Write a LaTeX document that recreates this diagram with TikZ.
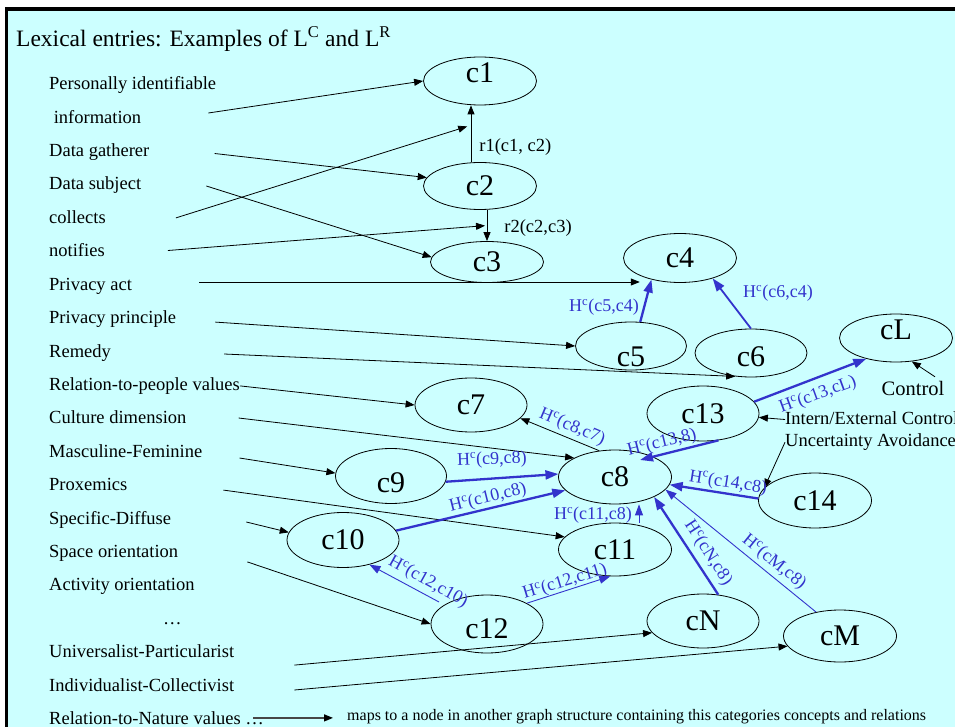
\documentclass[tikz,border=0pt]{standalone}
\usepackage{fontspec}
\setmainfont{Liberation Serif}
\usetikzlibrary{shapes.geometric,arrows.meta,positioning}
\definecolor{bgcyan}{RGB}{204,255,255}
\definecolor{hblue}{RGB}{51,51,204}
\definecolor{legendgray}{RGB}{70,70,70}
\newcommand{\Hsup}[1]{H\textsuperscript{c}(#1)}

\begin{document}
\begin{tikzpicture}[x=1pt, y=-1pt,
  conc/.style={draw, ellipse, line width=0.8pt, minimum width=113pt, minimum height=54pt, inner sep=0pt, font=\fontsize{30}{30}\selectfont},
  ctext/.style={inner sep=0pt, font=\fontsize{30}{30}\selectfont},
  lab/.style={anchor=base west, inner sep=0pt, text height=13pt, text depth=4pt, font=\fontsize{18.5}{20}\selectfont},
  rlab/.style={inner sep=0pt, font=\fontsize{18.5}{20}\selectfont},
  hlab/.style={inner sep=0pt, text=hblue, font=\fontsize{18}{20}\selectfont},
  arr/.style={-{Triangle[length=9pt,width=7pt]}, line width=0.8pt},
  harr/.style={-{Triangle[length=13pt,width=9pt]}, line width=2.3pt, hblue},
  tharr/.style={-{Triangle[length=11pt,width=8pt]}, line width=0.9pt, hblue}]
  \useasboundingbox (0,0) rectangle (955,727);
  \fill[bgcyan] (6.7,9) rectangle (955,727);
  \draw[line width=3.3pt] (6.7,727) -- (6.7,9) -- (955,9);

  \node[anchor=base west, inner sep=0pt, font=\fontsize{23.5}{26}\selectfont] (title) at (16,46.7) {Lexical entries: Examples of L\textsuperscript{C} and L\textsuperscript{R}};

  % lexical entries
  \node[lab] (pii) at (49,89.8) {Personally identifiable};
  \node[lab] (info) at (53.6,123.2) {information};
  \node[lab] (gath) at (49,156.6) {Data gatherer};
  \node[lab] (subj) at (49,190) {Data subject};
  \node[lab] (coll) at (49,223.4) {collects};
  \node[lab] (noti) at (49,256.8) {notifies};
  \node[lab] (pact) at (49,290.2) {Privacy act};
  \node[lab] (pprin) at (49,323.6) {Privacy principle};
  \node[lab] (remedy) at (49,357) {Remedy};
  \node[lab] (rpv) at (49,390.4) {Relation-to-people values};
  \node[lab] (cdim) at (49,423.8) {Culture dimension};
  \node[lab] (mf) at (49,457.2) {Masculine-Feminine};
  \node[lab] (prox) at (49,490.6) {Proxemics};
  \node[lab] (sd) at (49,524) {Specific-Diffuse};
  \node[lab] (sor) at (49,557.4) {Space orientation};
  \node[lab] (aor) at (49,590.8) {Activity orientation};
  \node[lab] (more) at (163,624.2) {…};
  \node[lab] (up) at (49,657.6) {Universalist-Particularist};
  \node[lab] (ic) at (49,691) {Individualist-Collectivist};
  \node[lab] (rnv) at (49,724.4) {Relation-to-Nature values …};

  % concepts
  \node[conc, minimum height=48pt, label={[ctext, yshift=8pt]center:c1}] (c1) at (480,81) {};
  \node[conc, minimum height=47pt] (c2) at (480,186) {c2};
  \node[conc, minimum height=41pt] (c3) at (487,262) {c3};
  \node[conc, minimum height=49pt] (c4) at (680,258) {c4};
  \node[conc, minimum width=111pt, minimum height=48pt, label={[ctext, yshift=-11pt]center:c5}] (c5) at (631,346) {};
  \node[conc, minimum width=112pt, minimum height=48pt, label={[ctext, yshift=-4pt]center:c6}] (c6) at (751,353) {};
  \node[conc, minimum height=48pt, label={[ctext, yshift=8pt]center:cL}] (cL) at (896,338) {};
  \node[conc, minimum width=112pt, minimum height=55pt] (c13) at (703,413.5) {c13};
  \node[conc, minimum width=112pt] (c7) at (471,405) {c7};
  \node[conc] (c8) at (615,477) {c8};
  \node[conc, minimum width=111pt, minimum height=55pt, label={[ctext, yshift=-7pt]center:c9}] (c9) at (391,476) {};
  \node[conc, minimum width=112pt, minimum height=55pt] (c10) at (343,540) {c10};
  \node[conc, minimum height=53pt] (c11) at (615,549.5) {c11};
  \node[conc, minimum width=112pt, minimum height=58pt, label={[ctext, yshift=-5pt]center:c12}] (c12) at (487,624) {};
  \node[conc, minimum width=112pt] (cN) at (703,621) {cN};
  \node[conc, minimum height=52pt] (cM) at (840,636) {cM};
  \node[conc, minimum height=55pt] (c14) at (815,500.5) {c14};

  \node[inner sep=0pt, anchor=base, text height=14pt, text depth=4pt, font=\fontsize{20.5}{22}\selectfont] (ctrl) at (913,395) {Control};
  \node[lab] (iec) at (785,424) {Intern/External Control};
  \node[lab] (ua) at (785,446.7) {Uncertainty Avoidance};

  % relations
  \draw[arr] ([xshift=-9pt]c2.north) -- ([xshift=-9pt]c1.south) coordinate[pos=0.65] (r1m)
    node[rlab, pos=0.26, right=8pt] (r1) {r1(c1, c2)};
  \draw[arr] ([xshift=7pt]c2.south) -- (c3.north) coordinate[pos=0.5] (r2m)
    node[rlab, pos=0.57, right=17pt] (r2) {r2(c2,c3)};

  % entries to concepts
  \foreach \s/\dx/\dy/\t in {info/67/-5.7/c1.west, gath/65/1.4/c2.171, subj/65/0.5/c3.175,
      pprin/39/3/c5.west, remedy/113/1.5/c6.236, rpv/0/0/c7.west, cdim/52/-1.3/c8.155,
      mf/37/5.3/c9.177, prox/96/4/c11.166, sd/75/2.5/c10.172, sor/69/9/c12.west,
      up/60/12/cN.193, ic/60/3.5/cM.191}
    \draw[arr] ([shift={(\dx,\dy)}]\s.east) -- (\t);
  \draw[arr, shorten >=4pt] ([shift={(70,-1)}]coll.east) -- (r1m);
  \draw[arr, shorten >=2pt] ([shift={(63,-1.8)}]noti.east) -- (r2m);
  \draw[arr] ([shift={(67,-3.7)}]pact.east) coordinate (pa) -- (pa -| c4.south west);
  \draw[arr] ([shift={(-9.5,-4)}]ctrl.north east) -- (cL.-56);
  \draw[arr] (iec.west) -- (c13.-4);
  \draw[arr] (ua.west) -- (c14.166);
  \draw[arr] (c8.121) -- (c7.-15);

  % hierarchy
  \draw[harr] (c5.69) -- (c4.217);
  \draw[harr, line width=1.8pt] (c6.north) -- (c4.-32);
  \draw[harr] (c13.13) -- (cL.215);
  \draw[harr] (c13.-60) -- ([shift={(25,-17)}]c8.center);
  \draw[harr] (c9.-6) -- (c8.177);
  \draw[harr] (c10.10) -- (c8.195);
  \draw[tharr] ([xshift=24pt]c11.north) -- ([xshift=24pt]c8.south);
  \draw[tharr] ([shift={(-48,-22)}]c12.center) -- (c10.-43);
  \draw[tharr] (c12.north east) -- (c11.260);
  \draw[harr] (c14.178) -- (c8.-8);
  \draw[harr] (cN.60) -- (c8.-27);
  \draw[tharr] (cM.135) -- (c8.-14);

  \node[hlab] (h54) at (604,307) {\Hsup{c5,c4}};
  \node[hlab] (h64) at (778,293) {\Hsup{c6,c4}};
  \node[hlab, rotate=20] (h13L) at (818,395) {\Hsup{c13,cL}};
  \node[hlab, rotate=14] (h138) at (662,443) {\Hsup{c13,8}};
  \node[hlab, rotate=-23] (h87) at (572,427) {\Hsup{c8,c7}};
  \node[hlab, rotate=2] (h98) at (492,460) {\Hsup{c9,c8}};
  \node[hlab, rotate=14] (h108) at (488,498) {\Hsup{c10,c8}};
  \node[hlab] (h118) at (593,515) {\Hsup{c11,c8}};
  \node[hlab, rotate=-29] (h1210) at (428,582) {\Hsup{c12,c10}};
  \node[hlab, rotate=17] (h1211) at (565,582) {\Hsup{c12,c11}};
  \node[hlab, rotate=-9] (h148) at (728,483) {\Hsup{c14,c8}};
  \node[hlab, rotate=-57] (hN8) at (708,553) {\Hsup{cN,c8}};
  \node[hlab, rotate=-39] (hM8) at (774,562) {\Hsup{cM,c8}};

  % legend
  \node[anchor=base west, inner sep=0pt, font=\fontsize{16}{18}\selectfont] (maps) at (347,720.7) {maps to a node in another graph structure containing this categories concepts and relations};
  \draw[-{Triangle[length=9pt,width=7pt,color=black]}, line width=1.3pt, legendgray, shorten >=14pt]
    ([shift={(-11,-2)}]rnv.east) coordinate (rn) -- (rn -| maps.west);
\end{tikzpicture}
\end{document}
